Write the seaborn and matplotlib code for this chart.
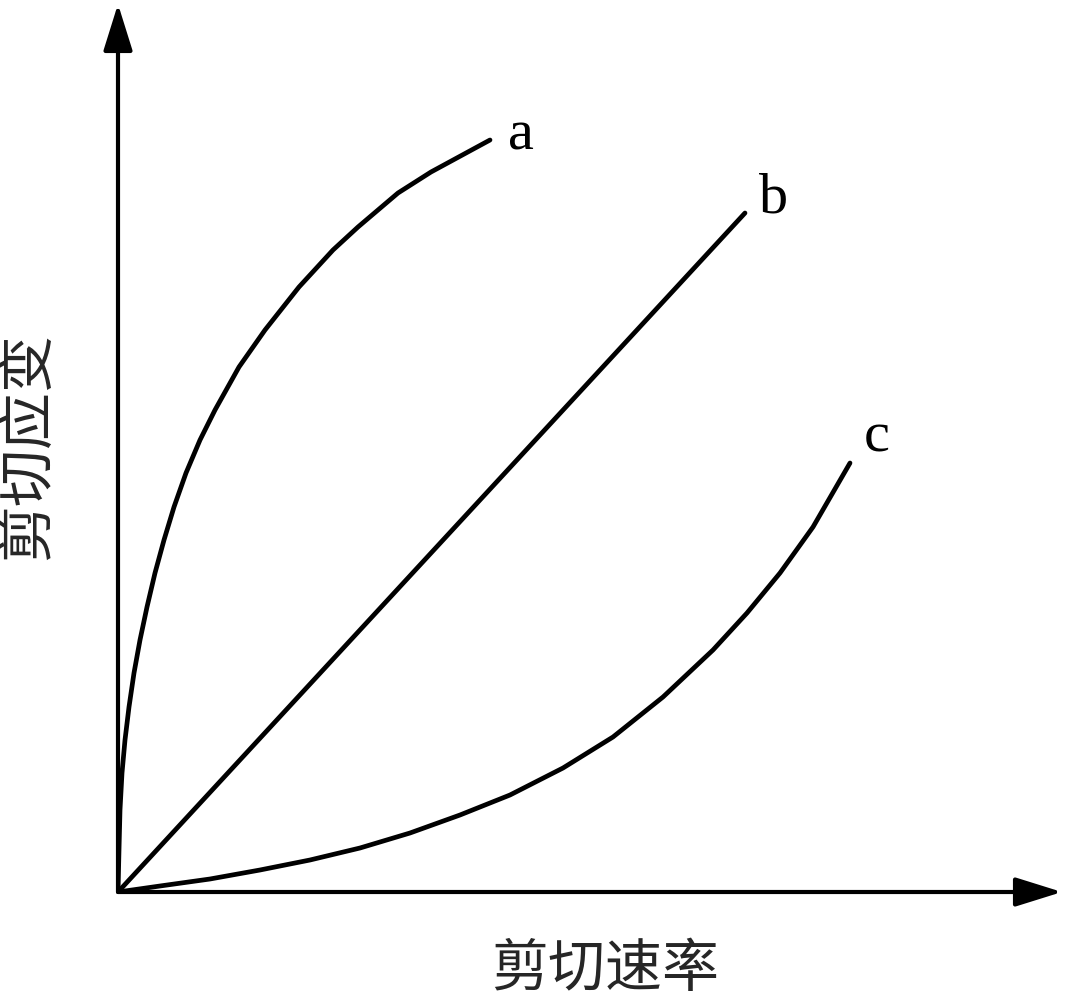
import pandas as pd
import matplotlib
matplotlib.use("Agg")
import matplotlib.pyplot as plt
import seaborn as sns

# curva a (pseudoplástica), b (newtoniana), c (dilatante)
a_rate = [0, 0.01, 0.02, 0.04, 0.07, 0.11, 0.16, 0.22, 0.29, 0.37, 0.46, 0.56, 0.68, 0.82,
          0.97, 1.21, 1.47, 1.81, 2.15, 2.40, 2.80, 3.13, 3.72]
a_strain = [0, 0.42, 0.82, 1.19, 1.52, 1.85, 2.19, 2.52, 2.85, 3.19, 3.52, 3.85, 4.19, 4.52,
            4.82, 5.25, 5.62, 6.05, 6.42, 6.65, 6.99, 7.20, 7.52]

b_rate = [0, 6.27]
b_strain = [0, 6.79]

c_rate = [0, 0.42, 0.92, 1.42, 1.92, 2.42, 2.92, 3.42, 3.92, 4.45, 4.95, 5.45, 5.95,
          6.29, 6.62, 6.95, 7.32]
c_strain = [0, 0.06, 0.13, 0.22, 0.32, 0.44, 0.59, 0.77, 0.97, 1.24, 1.55, 1.95, 2.42,
            2.79, 3.19, 3.65, 4.29]

curve_names = ["a", "b", "c"]
x_label = "剪切速率"
y_label = "剪切应变"


def generar_grafico():
    frames = []
    for name, xs, ys in zip(curve_names, [a_rate, b_rate, c_rate], [a_strain, b_strain, c_strain]):
        frames.append(pd.DataFrame({"rate": xs, "strain": ys, "curve": name}))
    df = pd.concat(frames, ignore_index=True)

    sns.set_style("white")
    plt.rcParams['font.family'] = ['Noto Sans CJK SC', 'DejaVu Sans']

    fig = plt.figure(figsize=(10.91, 10), dpi=100)
    # origen en (118, 892) px, flechas hasta ~1062 px a la derecha y ~4 px arriba
    ax = fig.add_axes([118 / 1091, 0.108, 944 / 1091, 0.888])

    sns.lineplot(
        data=df, x="rate", y="strain", hue="curve",
        palette={n: "black" for n in curve_names},
        sort=False, estimator=None, legend=False,
        linewidth=3.4, ax=ax,
    )

    ax.set_xlim(0, 9.44)
    ax.set_ylim(0, 8.88)
    ax.set_xticks([])
    ax.set_yticks([])
    ax.set_xlabel("")
    ax.set_ylabel("")
    for s in ax.spines.values():
        s.set_visible(False)

    # ejes con flecha
    arrow = dict(arrowstyle="-|>,head_length=0.8,head_width=0.25", mutation_scale=36,
                 lw=3, color="black", shrinkA=0, shrinkB=0)
    ax.annotate("", xy=(1, 0), xytext=(0, 0), xycoords="axes fraction", arrowprops=arrow)
    ax.annotate("", xy=(0, 1), xytext=(0, 0), xycoords="axes fraction", arrowprops=arrow)

    # etiquetas de curvas
    ends = {"a": (3.90, 7.43), "b": (6.41, 6.80), "c": (7.46, 4.40)}
    for name, (x, y) in ends.items():
        ax.text(x, y, name, fontsize=42, family=["Liberation Serif"],
                ha="left", va="baseline", color="black")

    fig.text(605 / 1091, 0.03, x_label, fontsize=41, ha="center", va="center")
    fig.text(28 / 1091, 0.554, y_label, fontsize=41, ha="center", va="center", rotation=90)

    fig.savefig("out.png", dpi=100)


if __name__ == "__main__":
    generar_grafico()
